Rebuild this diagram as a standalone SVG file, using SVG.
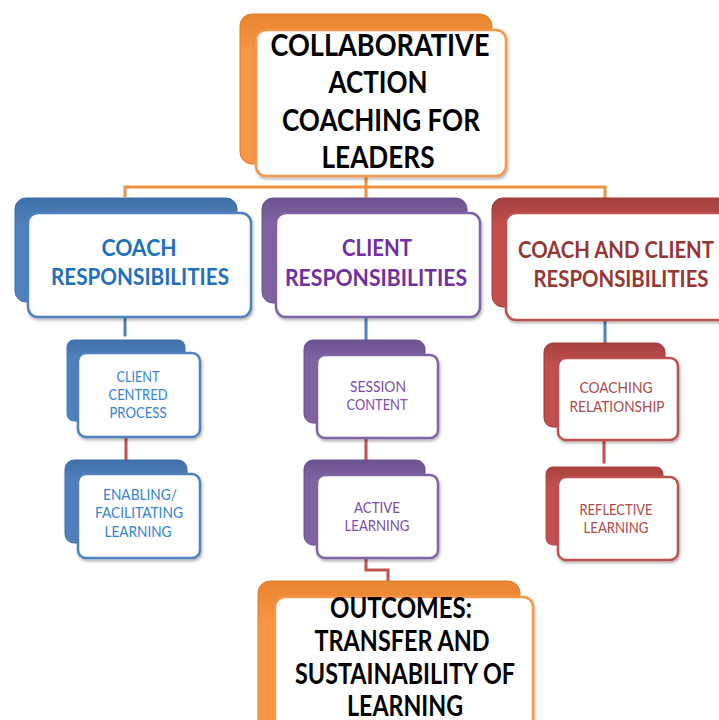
<svg xmlns="http://www.w3.org/2000/svg" width="719" height="720" viewBox="0 0 719 720">
<defs>
<linearGradient id="gBlue" x1="0" y1="0" x2="0" y2="1"><stop offset="0" stop-color="#3f6fa8"/><stop offset="0.25" stop-color="#4F81BD"/><stop offset="1" stop-color="#4F81BD"/></linearGradient>
<linearGradient id="gPurple" x1="0" y1="0" x2="0" y2="1"><stop offset="0" stop-color="#6c5390"/><stop offset="0.25" stop-color="#8064A2"/><stop offset="1" stop-color="#8064A2"/></linearGradient>
<linearGradient id="gRed" x1="0" y1="0" x2="0" y2="1"><stop offset="0" stop-color="#a53f3c"/><stop offset="0.25" stop-color="#C0504D"/><stop offset="1" stop-color="#C0504D"/></linearGradient>
<linearGradient id="gOrange" x1="0" y1="0" x2="0" y2="1"><stop offset="0" stop-color="#e9842f"/><stop offset="0.25" stop-color="#F79646"/><stop offset="1" stop-color="#F79646"/></linearGradient>
<filter id="sh" x="-10%" y="-10%" width="130%" height="130%"><feDropShadow dx="1" dy="2" stdDeviation="1.5" flood-color="#000" flood-opacity="0.3"/></filter>
</defs>
<style>
.front{fill:#fff;stroke-width:2.5;filter:url(#sh)}
.bB{fill:url(#gBlue);stroke:#3d6ba3;stroke-width:1}
.bP{fill:url(#gPurple);stroke:#6a5190;stroke-width:1}
.bR{fill:url(#gRed);stroke:#9b3b39;stroke-width:1}
.bO{fill:url(#gOrange);stroke:#d97f2f;stroke-width:1}
.fB{stroke:#4F81BD}.fP{stroke:#8064A2}.fR{stroke:#C0504D}.fO{stroke:#F79646}
.out{stroke:#fff;stroke-width:3}
text{font-family:Lato,"Liberation Sans",sans-serif;text-anchor:middle}
.big{font-size:30px;font-weight:bold;fill:#000}
.big2{font-size:28px;font-weight:bold;fill:#000}
.mid{font-size:22px;font-weight:bold}
.sm{font-size:15px}
.tB{fill:#1F6FBF}.tP{fill:#7030A0}.tR{fill:#953735}
.tB2{fill:#3583D3}.tP2{fill:#7E4BB0}.tR2{fill:#B04A48}
.con{fill:none;stroke-width:3}
</style>
<g id="connectors">
<path class="con" d="M366 177 V187 M125 197 V187 H605 V198 M366 187 V198" stroke="#F0913F"/>
<path class="con" d="M125 317 V340 M366 317 V341 M605 320 V344" stroke="#4F81BD"/>
<path class="con" d="M126 437 V461 M366 438 V461 M604 440 V466" stroke="#C0504D"/>
<path class="con" d="M366 558 V570 H388 V582" stroke="#C0504D"/>
</g>
<g id="top">
<rect class="bO" x="240" y="14" width="252" height="150" rx="12"/>
<rect class="front fO" x="256" y="30" width="250" height="146" rx="10"/>
<text class="big" x="380" y="56" textLength="219" lengthAdjust="spacingAndGlyphs">COLLABORATIVE</text>
<text class="big" x="378" y="93" textLength="99" lengthAdjust="spacingAndGlyphs">ACTION</text>
<text class="big" x="381" y="131" textLength="198" lengthAdjust="spacingAndGlyphs">COACHING FOR</text>
<text class="big" x="378" y="168" textLength="113" lengthAdjust="spacingAndGlyphs">LEADERS</text>
</g>
<g id="coach">
<rect class="bB" x="15" y="198" width="222" height="104" rx="11"/>
<rect class="front fB" x="28" y="213" width="223" height="104" rx="10"/>
<text class="mid tB" x="139" y="256" textLength="75" lengthAdjust="spacingAndGlyphs">COACH</text>
<text class="mid tB" x="140" y="285" textLength="178" lengthAdjust="spacingAndGlyphs">RESPONSIBILITIES</text>
</g>
<g id="client">
<rect class="bP" x="262" y="198" width="205" height="105" rx="11"/>
<rect class="front fP" x="276" y="213" width="204" height="104" rx="10"/>
<text class="mid tP" x="377" y="256" textLength="70" lengthAdjust="spacingAndGlyphs">CLIENT</text>
<text class="mid tP" x="376" y="286" textLength="182" lengthAdjust="spacingAndGlyphs">RESPONSIBILITIES</text>
</g>
<g id="both">
<rect class="bR" x="492" y="198" width="240" height="109" rx="11"/>
<rect class="front fR" x="506" y="213" width="230" height="107" rx="10"/>
<text class="mid tR" x="616" y="258" textLength="196" lengthAdjust="spacingAndGlyphs">COACH AND CLIENT</text>
<text class="mid tR" x="621" y="287" textLength="175" lengthAdjust="spacingAndGlyphs">RESPONSIBILITIES</text>
</g>
<g id="ccp">
<rect class="bB out" x="65" y="338" width="122" height="85" rx="9"/>
<rect class="front fB" x="78" y="353" width="122" height="84" rx="8"/>
<text class="sm tB2" x="138" y="382" textLength="43" lengthAdjust="spacingAndGlyphs">CLIENT</text>
<text class="sm tB2" x="138" y="400" textLength="59" lengthAdjust="spacingAndGlyphs">CENTRED</text>
<text class="sm tB2" x="138" y="418" textLength="57" lengthAdjust="spacingAndGlyphs">PROCESS</text>
</g>
<g id="enabling">
<rect class="bB" x="65" y="460" width="122" height="83" rx="9"/>
<rect class="front fB" x="78" y="474" width="122" height="84" rx="8"/>
<text class="sm tB2" x="140" y="500" textLength="74" lengthAdjust="spacingAndGlyphs">ENABLING/</text>
<text class="sm tB2" x="139" y="518" textLength="88" lengthAdjust="spacingAndGlyphs">FACILITATING</text>
<text class="sm tB2" x="138" y="537" textLength="67" lengthAdjust="spacingAndGlyphs">LEARNING</text>
</g>
<g id="session">
<rect class="bP" x="304" y="340" width="121" height="83" rx="9"/>
<rect class="front fP" x="317" y="355" width="121" height="83" rx="8"/>
<text class="sm tP2" x="378" y="392" textLength="56" lengthAdjust="spacingAndGlyphs">SESSION</text>
<text class="sm tP2" x="377" y="410" textLength="61" lengthAdjust="spacingAndGlyphs">CONTENT</text>
</g>
<g id="active">
<rect class="bP" x="304" y="460" width="121" height="85" rx="9"/>
<rect class="front fP" x="317" y="475" width="121" height="83" rx="8"/>
<text class="sm tP2" x="377" y="513" textLength="46" lengthAdjust="spacingAndGlyphs">ACTIVE</text>
<text class="sm tP2" x="377" y="531" textLength="65" lengthAdjust="spacingAndGlyphs">LEARNING</text>
</g>
<g id="relationship">
<rect class="bR" x="544" y="343" width="121" height="84" rx="9"/>
<rect class="front fR" x="558" y="358" width="120" height="82" rx="8"/>
<text class="sm tR2" x="616" y="393" textLength="73" lengthAdjust="spacingAndGlyphs">COACHING</text>
<text class="sm tR2" x="617" y="412" textLength="95" lengthAdjust="spacingAndGlyphs">RELATIONSHIP</text>
</g>
<g id="reflective">
<rect class="bR out" x="544" y="465" width="121" height="82" rx="9"/>
<rect class="front fR" x="558" y="477" width="120" height="83" rx="8"/>
<text class="sm tR2" x="616" y="515" textLength="73" lengthAdjust="spacingAndGlyphs">REFLECTIVE</text>
<text class="sm tR2" x="616" y="533" textLength="65" lengthAdjust="spacingAndGlyphs">LEARNING</text>
</g>
<g id="outcomes">
<rect class="bO" x="258" y="581" width="262" height="160" rx="12"/>
<rect class="front fO" x="275" y="597" width="258" height="150" rx="10"/>
<text class="big2" x="401" y="618" textLength="142" lengthAdjust="spacingAndGlyphs">OUTCOMES:</text>
<text class="big2" x="402" y="651" textLength="175" lengthAdjust="spacingAndGlyphs">TRANSFER AND</text>
<text class="big2" x="405" y="684" textLength="220" lengthAdjust="spacingAndGlyphs">SUSTAINABILITY OF</text>
<text class="big2" x="405" y="716" textLength="116" lengthAdjust="spacingAndGlyphs">LEARNING</text>
</g>
</svg>
